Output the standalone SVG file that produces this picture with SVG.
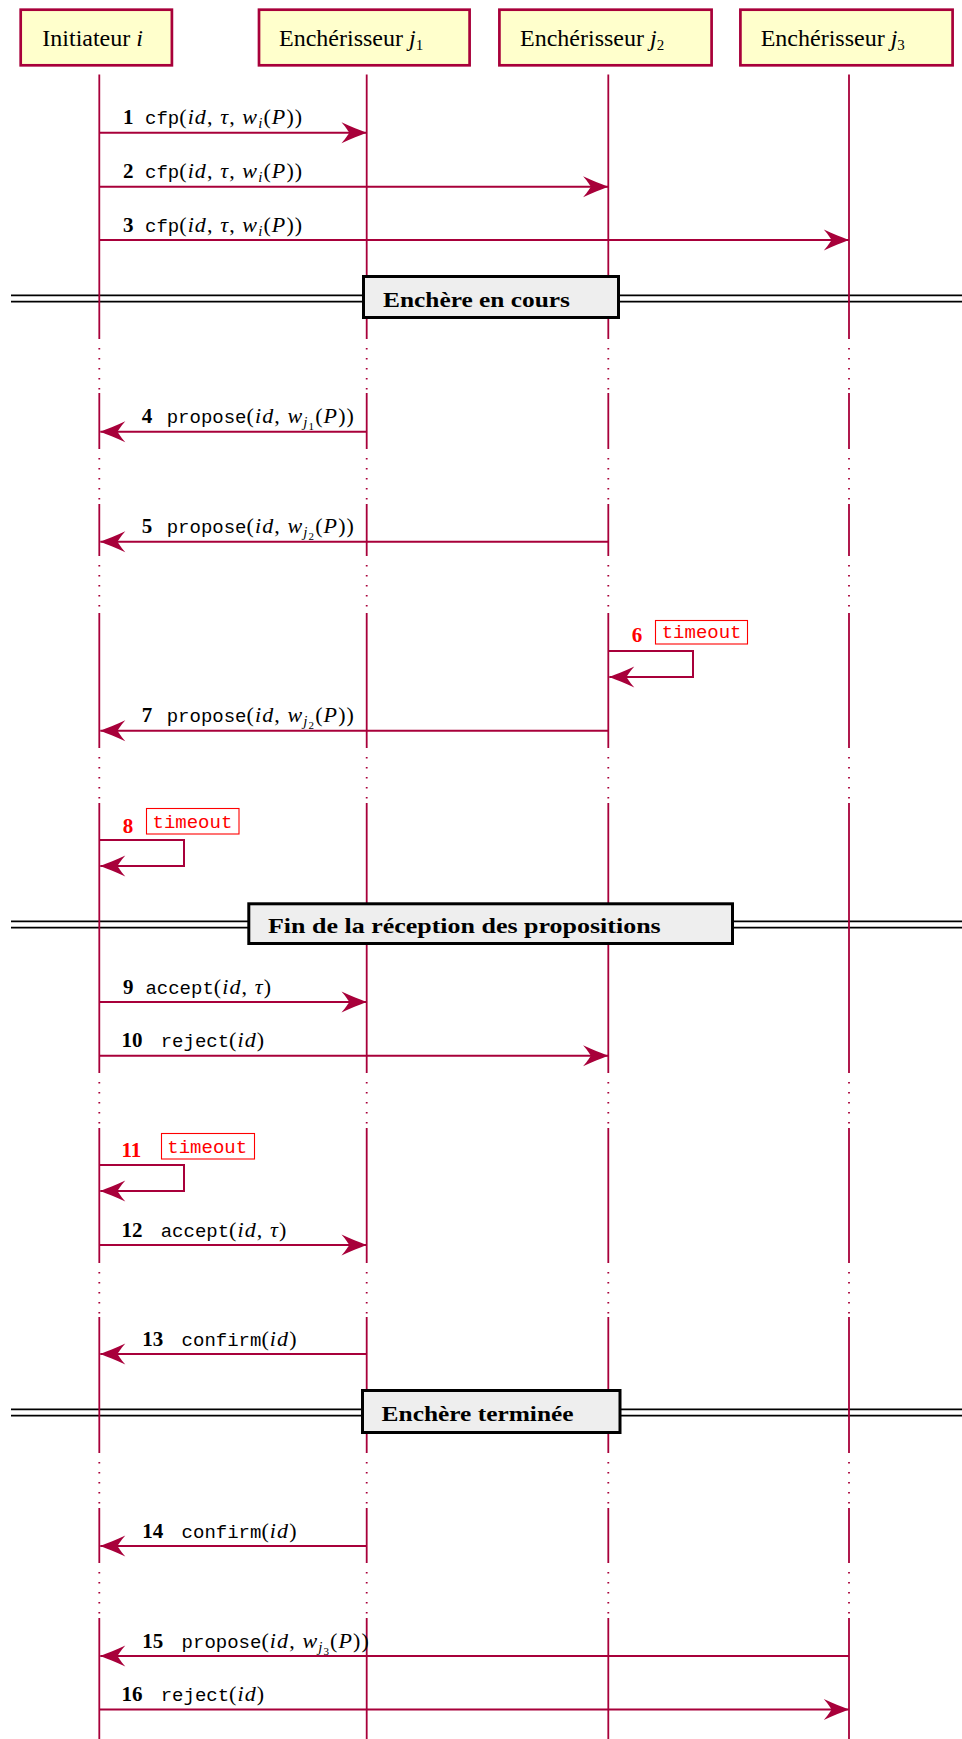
<svg xmlns="http://www.w3.org/2000/svg" width="962" height="1739" viewBox="0 0 962 1739">
<style>
.hdr rect{fill:#FFFFCC;stroke:#A8003A;stroke-width:2.7}
.ht{font-family:'Liberation Serif',serif;font-size:24px;fill:#000}
.ll{stroke:#A8003A;stroke-width:1.8;fill:none}
.lld{stroke:#A8003A;stroke-width:1.8;fill:none;stroke-dasharray:1.6 8.4}
.msg{stroke:#A8003A;stroke-width:2;fill:none;marker-end:url(#ah)}
.lbl{fill:#000}
.num{font-family:'Liberation Serif',serif;font-weight:bold;font-size:21px}
.tt{font-family:'Liberation Mono',monospace;font-size:19px}
.m{font-family:'Liberation Serif',serif;font-size:22px;letter-spacing:1.1px}
.it{font-style:italic}
.s1{font-size:15px}
.s2{font-size:11px}
.red{fill:#FF0000}
.tobox{fill:#fff;stroke:#FF0000;stroke-width:1.1}
.sepblack{stroke:#000;stroke-width:8;fill:none}
.sepwhite{stroke:#fff;stroke-width:4.6;fill:none}
.sepbox{fill:#EEEEEE;stroke:#000;stroke-width:3}
.sept{font-family:'Liberation Serif',serif;font-weight:bold;font-size:21px;fill:#000}
</style>
<defs>
<marker id="ah" markerUnits="userSpaceOnUse" viewBox="-27 -12 29 24" refX="0" refY="0" markerWidth="29" markerHeight="24" orient="auto">
<path d="M0,0 C-7,-2.7 -15,-6 -25,-10.5 C-19.5,-4.2 -18.5,-1.5 -17,0 C-18.5,1.5 -19.5,4.2 -25,10.5 C-15,6 -7,2.7 0,0 Z" fill="#A8003A"/>
</marker>
</defs>
<rect width="962" height="1739" fill="#fff"/>

<!-- separator rails -->
<g id="separator-rails">
<path class="sepblack" d="M11,298.5 H962 M11,924.5 H962 M11,1412.5 H962"/>
<path class="sepwhite" d="M11,298.5 H962 M11,924.5 H962 M11,1412.5 H962"/>
</g>

<!-- lifelines -->
<g id="lifelines">
<path class="ll" d="M99.3,74.5 V339 M99.3,393 V449 M99.3,504 V556 M99.3,613 V748 M99.3,803 V1073 M99.3,1128 V1263 M99.3,1317 V1453 M99.3,1508 V1563 M99.3,1618 V1739"/>
<path class="ll" d="M366.7,74.5 V339 M366.7,393 V449 M366.7,504 V556 M366.7,613 V748 M366.7,803 V1073 M366.7,1128 V1263 M366.7,1317 V1453 M366.7,1508 V1563 M366.7,1618 V1739"/>
<path class="ll" d="M608.3,74.5 V339 M608.3,393 V449 M608.3,504 V556 M608.3,613 V748 M608.3,803 V1073 M608.3,1128 V1263 M608.3,1317 V1453 M608.3,1508 V1563 M608.3,1618 V1739"/>
<path class="ll" d="M849,74.5 V339 M849,393 V449 M849,504 V556 M849,613 V748 M849,803 V1073 M849,1128 V1263 M849,1317 V1453 M849,1508 V1563 M849,1618 V1739"/>
<path class="lld" d="M99.3,348 V391 M99.3,458 V502 M99.3,565 V611 M99.3,757 V801 M99.3,1082 V1126 M99.3,1272 V1315 M99.3,1462 V1506 M99.3,1572 V1616"/>
<path class="lld" d="M366.7,348 V391 M366.7,458 V502 M366.7,565 V611 M366.7,757 V801 M366.7,1082 V1126 M366.7,1272 V1315 M366.7,1462 V1506 M366.7,1572 V1616"/>
<path class="lld" d="M608.3,348 V391 M608.3,458 V502 M608.3,565 V611 M608.3,757 V801 M608.3,1082 V1126 M608.3,1272 V1315 M608.3,1462 V1506 M608.3,1572 V1616"/>
<path class="lld" d="M849,348 V391 M849,458 V502 M849,565 V611 M849,757 V801 M849,1082 V1126 M849,1272 V1315 M849,1462 V1506 M849,1572 V1616"/>
</g>

<!-- header nodes -->
<g id="node-initiateur" class="hdr">
<rect x="20.7" y="9.7" width="151.2" height="55.6"/>
<text class="ht" x="42.3" y="45.7">Initiateur <tspan class="it">i</tspan></text>
</g>
<g id="node-j1" class="hdr">
<rect x="259" y="9.7" width="210.6" height="55.6"/>
<text class="ht" x="279" y="45.7">Enchérisseur <tspan class="it">j</tspan><tspan class="s1" dy="4">1</tspan></text>
</g>
<g id="node-j2" class="hdr">
<rect x="499.4" y="9.7" width="212.2" height="55.6"/>
<text class="ht" x="520" y="45.7">Enchérisseur <tspan class="it">j</tspan><tspan class="s1" dy="4">2</tspan></text>
</g>
<g id="node-j3" class="hdr">
<rect x="740.4" y="9.7" width="212.2" height="55.6"/>
<text class="ht" x="760.7" y="45.7">Enchérisseur <tspan class="it">j</tspan><tspan class="s1" dy="4">3</tspan></text>
</g>

<!-- separators -->
<g id="sep-encours">
<rect class="sepbox" x="363.5" y="276.5" width="255" height="41"/>
<text class="sept" x="383" y="306.7" textLength="187" lengthAdjust="spacingAndGlyphs">Enchère en cours</text>
</g>
<g id="sep-fin">
<rect class="sepbox" x="248.8" y="903.8" width="483.7" height="39.7"/>
<text class="sept" x="268" y="932.7" textLength="392.7" lengthAdjust="spacingAndGlyphs">Fin de la réception des propositions</text>
</g>
<g id="sep-terminee">
<rect class="sepbox" x="362.5" y="1390.5" width="257.5" height="42"/>
<text class="sept" x="381.6" y="1420.7" textLength="192" lengthAdjust="spacingAndGlyphs">Enchère terminée</text>
</g>

<!-- connectors -->
<g id="connectors">
<path class="msg" d="M99.3,132.7 H366.5"/>
<path class="msg" d="M99.3,186.7 H608.1"/>
<path class="msg" d="M99.3,240 H848.8"/>
<path class="msg" d="M366.7,431.7 H100.3"/>
<path class="msg" d="M608.3,541.7 H100.3"/>
<path class="msg" d="M608.3,651 H693 V677 H609.3"/>
<path class="msg" d="M608.3,730.7 H100.3"/>
<path class="msg" d="M99.3,840 H184 V866 H100.3"/>
<path class="msg" d="M99.3,1002 H366.5"/>
<path class="msg" d="M99.3,1055.7 H608.1"/>
<path class="msg" d="M99.3,1165 H184 V1191 H100.3"/>
<path class="msg" d="M99.3,1245 H366.5"/>
<path class="msg" d="M366.7,1354 H100.3"/>
<path class="msg" d="M366.7,1546 H100.3"/>
<path class="msg" d="M849,1656 H100.3"/>
<path class="msg" d="M99.3,1709.5 H848.8"/>
</g>

<!-- message labels -->
<g id="labels" class="lbl">
<text y="124.3"><tspan class="num" x="123">1</tspan><tspan class="tt" x="145">cfp</tspan><tspan class="m">(</tspan><tspan class="m it">id</tspan><tspan class="m">, </tspan><tspan class="m it">τ</tspan><tspan class="m">, </tspan><tspan class="m it">w</tspan><tspan class="m it s1" dy="4">i</tspan><tspan class="m" dy="-4">(</tspan><tspan class="m it">P</tspan><tspan class="m">))</tspan></text>
<text y="178.2"><tspan class="num" x="123">2</tspan><tspan class="tt" x="145">cfp</tspan><tspan class="m">(</tspan><tspan class="m it">id</tspan><tspan class="m">, </tspan><tspan class="m it">τ</tspan><tspan class="m">, </tspan><tspan class="m it">w</tspan><tspan class="m it s1" dy="4">i</tspan><tspan class="m" dy="-4">(</tspan><tspan class="m it">P</tspan><tspan class="m">))</tspan></text>
<text y="231.5"><tspan class="num" x="123">3</tspan><tspan class="tt" x="145">cfp</tspan><tspan class="m">(</tspan><tspan class="m it">id</tspan><tspan class="m">, </tspan><tspan class="m it">τ</tspan><tspan class="m">, </tspan><tspan class="m it">w</tspan><tspan class="m it s1" dy="4">i</tspan><tspan class="m" dy="-4">(</tspan><tspan class="m it">P</tspan><tspan class="m">))</tspan></text>
<text y="423.2"><tspan class="num" x="141.7">4</tspan><tspan class="tt" x="166.7">propose</tspan><tspan class="m">(</tspan><tspan class="m it">id</tspan><tspan class="m">, </tspan><tspan class="m it">w</tspan><tspan class="m it s1" dy="4">j</tspan><tspan class="m s2" dy="3">1</tspan><tspan class="m" dy="-7">(</tspan><tspan class="m it">P</tspan><tspan class="m">))</tspan></text>
<text y="533.2"><tspan class="num" x="141.7">5</tspan><tspan class="tt" x="166.7">propose</tspan><tspan class="m">(</tspan><tspan class="m it">id</tspan><tspan class="m">, </tspan><tspan class="m it">w</tspan><tspan class="m it s1" dy="4">j</tspan><tspan class="m s2" dy="3">2</tspan><tspan class="m" dy="-7">(</tspan><tspan class="m it">P</tspan><tspan class="m">))</tspan></text>
<text y="722.2"><tspan class="num" x="141.7">7</tspan><tspan class="tt" x="166.7">propose</tspan><tspan class="m">(</tspan><tspan class="m it">id</tspan><tspan class="m">, </tspan><tspan class="m it">w</tspan><tspan class="m it s1" dy="4">j</tspan><tspan class="m s2" dy="3">2</tspan><tspan class="m" dy="-7">(</tspan><tspan class="m it">P</tspan><tspan class="m">))</tspan></text>
<text y="993.5"><tspan class="num" x="123">9</tspan><tspan class="tt" x="145.4">accept</tspan><tspan class="m">(</tspan><tspan class="m it">id</tspan><tspan class="m">, </tspan><tspan class="m it">τ</tspan><tspan class="m">)</tspan></text>
<text y="1047.2"><tspan class="num" x="121.5">10</tspan><tspan class="tt" x="160.7">reject</tspan><tspan class="m">(</tspan><tspan class="m it">id</tspan><tspan class="m">)</tspan></text>
<text y="1236.5"><tspan class="num" x="121.5">12</tspan><tspan class="tt" x="160.7">accept</tspan><tspan class="m">(</tspan><tspan class="m it">id</tspan><tspan class="m">, </tspan><tspan class="m it">τ</tspan><tspan class="m">)</tspan></text>
<text y="1345.5"><tspan class="num" x="142.3">13</tspan><tspan class="tt" x="181.6">confirm</tspan><tspan class="m">(</tspan><tspan class="m it">id</tspan><tspan class="m">)</tspan></text>
<text y="1537.5"><tspan class="num" x="142.3">14</tspan><tspan class="tt" x="181.6">confirm</tspan><tspan class="m">(</tspan><tspan class="m it">id</tspan><tspan class="m">)</tspan></text>
<text y="1647.5"><tspan class="num" x="142.3">15</tspan><tspan class="tt" x="181.6">propose</tspan><tspan class="m">(</tspan><tspan class="m it">id</tspan><tspan class="m">, </tspan><tspan class="m it">w</tspan><tspan class="m it s1" dy="4">j</tspan><tspan class="m s2" dy="3">3</tspan><tspan class="m" dy="-7">(</tspan><tspan class="m it">P</tspan><tspan class="m">))</tspan></text>
<text y="1701"><tspan class="num" x="121.5">16</tspan><tspan class="tt" x="160.7">reject</tspan><tspan class="m">(</tspan><tspan class="m it">id</tspan><tspan class="m">)</tspan></text>
</g>

<!-- timeouts -->
<g id="timeout-6">
<text class="num red" x="631.7" y="642.3">6</text>
<rect class="tobox" x="655.5" y="620.5" width="92" height="23.5"/>
<text class="tt red" x="661.7" y="638.3">timeout</text>
</g>
<g id="timeout-8">
<text class="num red" x="122.7" y="832.5">8</text>
<rect class="tobox" x="146.5" y="808.5" width="92.5" height="25.5"/>
<text class="tt red" x="152.5" y="828">timeout</text>
</g>
<g id="timeout-11">
<text class="num red" x="121.5" y="1157">11</text>
<rect class="tobox" x="161.5" y="1133.5" width="93" height="25.5"/>
<text class="tt red" x="167.3" y="1153">timeout</text>
</g>
</svg>
